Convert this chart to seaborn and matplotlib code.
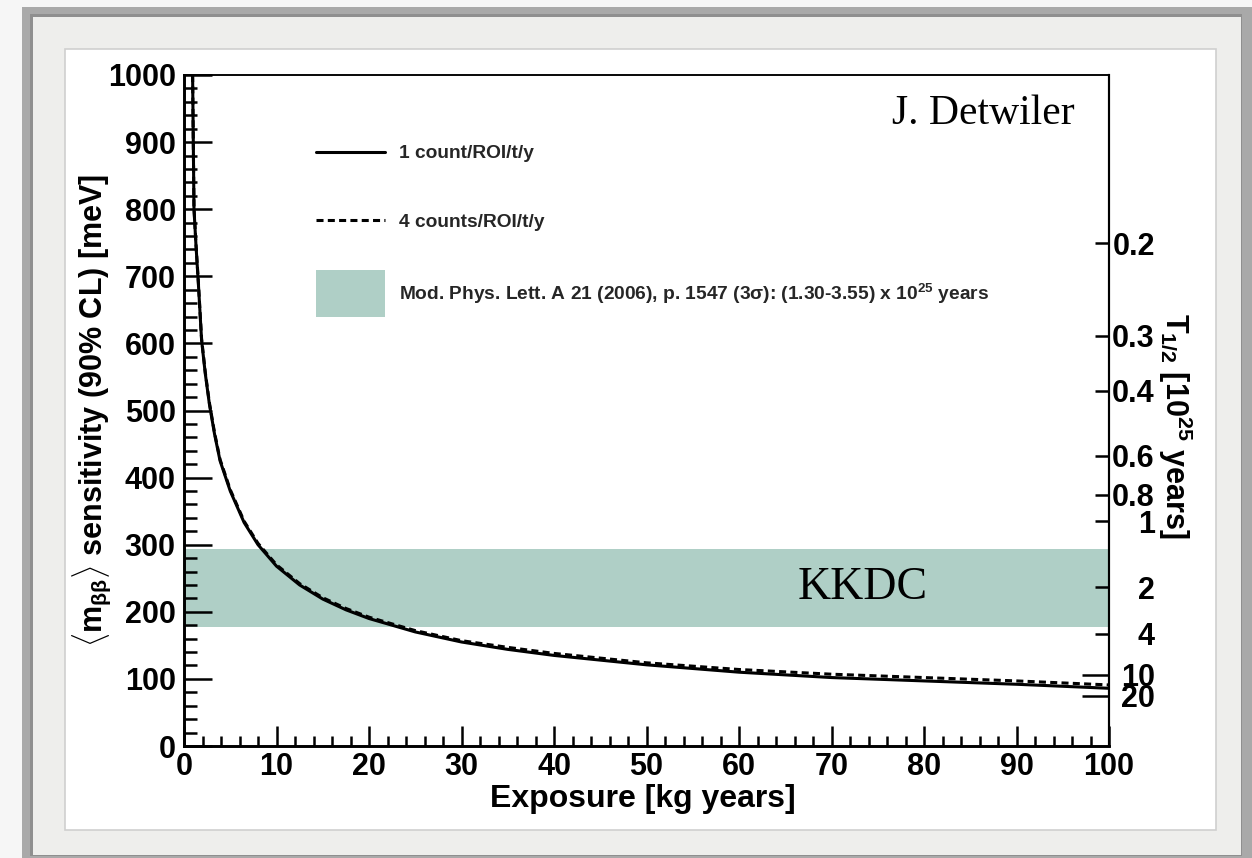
import numpy as np
import pandas as pd
import matplotlib
matplotlib.use("Agg")
import matplotlib.pyplot as plt
from matplotlib.patches import Rectangle, Patch
from matplotlib.lines import Line2D
from matplotlib.legend_handler import HandlerPatch
from matplotlib.ticker import MultipleLocator, FixedLocator, FixedFormatter
import seaborn as sns

# ---- data -------------------------------------------------------------
exposure = [0.93, 1.08, 1.3, 1.55, 1.9, 2.3, 2.74, 3.3, 3.9, 5, 6.5, 8, 10,
            12.5, 15, 17.5, 20, 25, 30, 35, 40, 50, 60, 70, 80, 90, 100]
sens_1count = [1000, 800, 745, 690, 605, 555, 510, 465, 425, 380, 333, 300, 268,
               240, 219, 203, 190, 170, 155, 144, 135, 121, 110, 102, 97, 92, 86]
sens_4counts = [1000, 802, 747, 692, 607, 557, 512, 467, 427, 382, 335, 302, 270,
                242, 221, 205, 192, 172, 157, 147, 138, 124, 114, 107, 102, 97, 91]
series_names = ["1 count/ROI/t/y", "4 counts/ROI/t/y"]

# KKDC claim, half-life range in 1e25 years
kkdc_halflife = [1.30, 3.55]
# m_bb [meV] = K / sqrt(T1/2 [1e25 y])
K_MEV = 335.0

t_half_ticks = [0.2, 0.3, 0.4, 0.6, 0.8, 1, 2, 4]
t_half_ticks_long = [10, 20]

x_major, x_minor = 10, 2
y_major, y_minor = 100, 20

# ---- style ------------------------------------------------------------
sns.set_theme(style="ticks")
plt.rcParams.update({
    "font.family": ["Liberation Sans", "DejaVu Sans"],
    "font.weight": "bold",
    "axes.labelweight": "bold",
    "mathtext.fontset": "custom",
    "mathtext.rm": "Liberation Sans",
    "mathtext.bf": "Liberation Sans:bold",
    "mathtext.it": "Liberation Sans:italic:bold",
    "mathtext.default": "bf",
})

W, H = 1252, 858
fig = plt.figure(figsize=(W / 100, H / 100), dpi=100, facecolor="#f6f6f6")


def px_rect(x0, y0, x1, y1, **kw):
    return Rectangle((x0 / W, 1 - y1 / H), (x1 - x0) / W, (y1 - y0) / H,
                     transform=fig.transFigure, **kw)


# picture-frame mount around the plot
fig.add_artist(px_rect(22, 7, 1252, 858, facecolor="#a9a9a9", lw=0, zorder=-10))
fig.add_artist(px_rect(30, 14, 1242, 856, facecolor="#8f8f8f", lw=0, zorder=-9))
fig.add_artist(px_rect(33, 17, 1241, 855, facecolor="#eeeeec", lw=0, zorder=-8))
fig.add_artist(px_rect(65, 49, 1216, 830, facecolor="white", edgecolor="#cfcfcf",
                       lw=1.2, zorder=-7))

ax = fig.add_axes([184 / W, 1 - 746 / H, (1109 - 184) / W, (746 - 75) / H])
ax.set_facecolor("white")

df = pd.DataFrame({
    "exposure": exposure * 2,
    "sensitivity": sens_1count + sens_4counts,
    "series": [series_names[0]] * len(exposure) + [series_names[1]] * len(exposure),
})

band_lo = K_MEV / np.sqrt(kkdc_halflife[1])
band_hi = K_MEV / np.sqrt(kkdc_halflife[0])
band_color = "#afcfc6"
ax.axhspan(band_lo, band_hi, color=band_color, lw=0, zorder=0)

sns.lineplot(data=df, x="exposure", y="sensitivity", style="series",
             dashes={series_names[0]: "", series_names[1]: (2.3, 1.4)},
             color="black", lw=2.2, estimator=None, legend=False, ax=ax, zorder=3)

ax.set_xlim(0, 100)
ax.set_ylim(0, 1000)
ax.xaxis.set_major_locator(MultipleLocator(x_major))
ax.xaxis.set_minor_locator(MultipleLocator(x_minor))
ax.yaxis.set_major_locator(MultipleLocator(y_major))
ax.yaxis.set_minor_locator(MultipleLocator(y_minor))
ax.tick_params(axis="x", which="major", direction="in", length=14.4, width=1.8,
               labelsize=22, pad=4, top=False, color="black", labelcolor="black")
ax.tick_params(axis="x", which="minor", direction="in", length=7.2, width=1.8,
               top=False, color="black")
ax.tick_params(axis="y", which="major", direction="in", length=20, width=1.8,
               labelsize=22, pad=6, right=False, color="black", labelcolor="black")
ax.tick_params(axis="y", which="minor", direction="in", length=9.4, width=1.8,
               right=False, color="black")

ax.set_xlabel("Exposure [kg years]", fontsize=23, color="black")
ax.xaxis.label.set(ha="center", va="center")
ax.xaxis.set_label_coords(0.496, -0.079)

ax.set_ylabel(r"$\langle$m$_{\mathrm{\beta\beta}}$$\rangle$ sensitivity (90% CL) [meV]",
              fontsize=22, color="black")
ax.yaxis.label.set(ha="center", va="center", rotation=90, rotation_mode="default")
ax.yaxis.set_label_coords(-0.1, 0.5)

# half-life scale on the right
ax2 = ax.twinx()
ax2.set_ylim(0, 1000)
ax2.yaxis.set_major_locator(FixedLocator(K_MEV / np.sqrt(t_half_ticks)))
ax2.yaxis.set_major_formatter(FixedFormatter([f"{t:g}" for t in t_half_ticks]))
ax2.yaxis.set_minor_locator(FixedLocator(K_MEV / np.sqrt(t_half_ticks_long)))
ax2.yaxis.set_minor_formatter(FixedFormatter([f"{t:g}" for t in t_half_ticks_long]))
ax2.tick_params(axis="y", which="major", direction="in", length=10, width=1.8,
                labelsize=22, pad=33, color="black", labelcolor="black")
ax2.tick_params(axis="y", which="minor", direction="in", length=19.5, width=1.8,
                labelsize=22, pad=33, color="black", labelcolor="black")
for lbl in ax2.get_yticklabels(which="both"):
    lbl.set_ha("right")
ax2.grid(False)

ax2.set_ylabel(r"T$_{1/2}$ [10$^{25}$ years]", fontsize=22, color="black")
ax2.yaxis.label.set(ha="center", va="center", rotation=-90, rotation_mode="default")
ax2.yaxis.set_label_coords(1.071, 0.478)

for a in (ax, ax2):
    for side, lw in (("left", 1.9), ("bottom", 1.9), ("right", 1.5), ("top", 1.1)):
        a.spines[side].set_linewidth(lw)
        a.spines[side].set_color("black")
        a.spines[side].set_visible(True)

# annotations
ax.text(73.4, 0.5 * (band_lo + band_hi), "KKDC", family="Liberation Serif",
        fontweight="normal", fontsize=33, ha="center", va="center",
        color="black", zorder=4)
ax.text(0.963, 0.942, "J. Detwiler", transform=ax.transAxes,
        family="Liberation Serif", fontweight="normal", fontsize=30,
        ha="right", va="center", color="black")


# tall colour swatch for the band entry, centred on the text row
def tall_swatch(legend, orig_handle, xdescent, ydescent, width, height, fontsize):
    h = 33.8
    cy = (height - ydescent) / 2
    return Rectangle((-xdescent, cy - h / 2), width, h)


handles = [
    Line2D([], [], color="black", lw=2.2),
    Line2D([], [], color="black", lw=2.2, dashes=(2.3, 1.4)),
    Patch(facecolor=band_color, edgecolor="none"),
]
labels = series_names + [
    "Mod. Phys. Lett. A 21 (2006), p. 1547 (3\u03c3): "
    f"({kkdc_halflife[0]:.2f}-{kkdc_halflife[1]:.2f}) x 10$^{{25}}$ years"
]
ax.legend(handles, labels, loc="upper left",
          bbox_to_anchor=(316 / W, 1 - 145 / H), bbox_transform=fig.transFigure,
          handler_map={Patch: HandlerPatch(patch_func=tall_swatch)},
          frameon=False, fontsize=13.8, handlelength=3.6, handleheight=0.7,
          labelspacing=2.66, handletextpad=0.75, borderpad=0, borderaxespad=0)

fig.savefig("out.png", dpi=100, facecolor=fig.get_facecolor())
